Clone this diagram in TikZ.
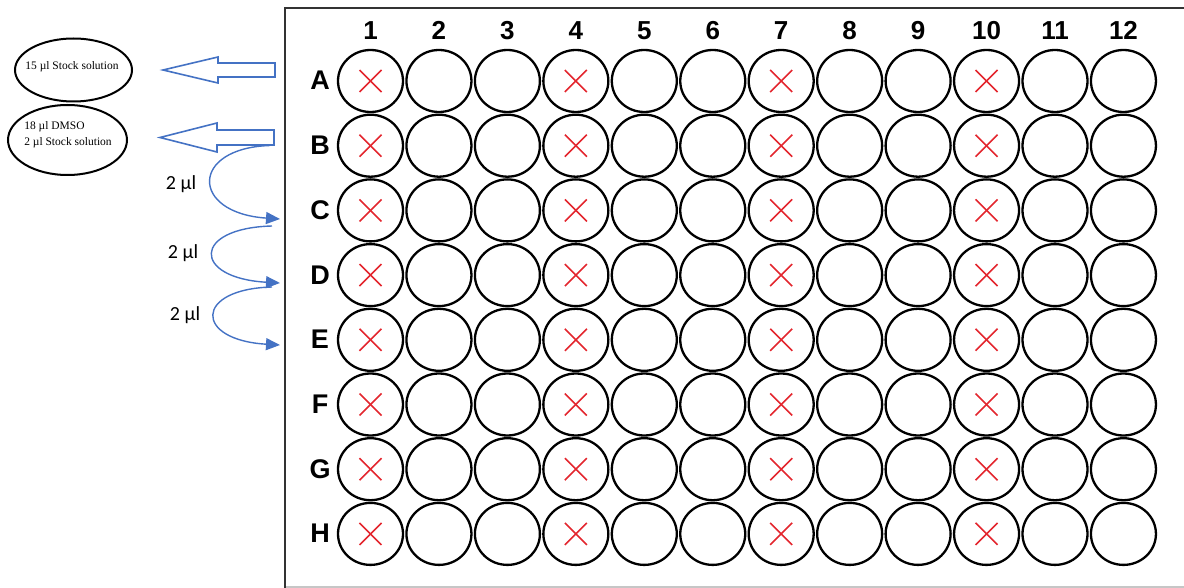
\documentclass[tikz,border=0pt]{standalone}
\usepackage{fontspec}
\setmainfont{Liberation Serif}
\newfontfamily\arialf{Liberation Sans}
\newfontfamily\calf{Carlito}
\usetikzlibrary{arrows.meta,shapes.geometric}
\definecolor{arrblue}{HTML}{4472C4}
\definecolor{xred}{HTML}{E3262E}
\definecolor{framecol}{HTML}{333333}
\tikzset{
  well/.style={ellipse,draw=black,line width=2.3pt,minimum width=65pt,minimum height=62pt,inner sep=0pt},
  xmark/.style={draw=xred,line width=1.6pt},
  collab/.style={font=\arialf\bfseries\fontsize{26}{26}\selectfont,inner sep=0pt,anchor=base},
  rowlab/.style={font=\arialf\bfseries\fontsize{27}{27}\selectfont,inner sep=0pt,anchor=base},
  note/.style={ellipse,draw=black,line width=2pt,inner sep=0pt},
  notetext/.style={font=\fontsize{11.5}{16}\selectfont,align=left,inner sep=0pt},
  blockarr/.style={draw=arrblue,line width=1.6pt,fill=white,line join=miter},
  curvearr/.style={draw=arrblue,line width=1.4pt,-{Triangle[length=14pt,width=12pt]}},
  vollab/.style={font=\calf\fontsize{20}{20}\selectfont,inner sep=0pt}
}
\begin{document}
\begin{tikzpicture}[x=1pt,y=-1pt]
\useasboundingbox (0,0) rectangle (1184,588);
% plate frame
\draw[framecol,line width=2.5pt] (1190,8) -- (285,8) -- (285,590);
\draw[gray!45,line width=1.5pt] (286,587) -- (1190,587);
% column labels
\foreach \c in {1,...,12}{
  \node[collab] (col\c) at ({370.5+68.45*(\c-1)},40) {\c};
}
% row labels and wells
\foreach \r/\L in {1/A,2/B,3/C,4/D,5/E,6/F,7/G,8/H}{
  \node[rowlab] (row\L) at (320,{90+64.7*(\r-1)}) {\L};
  \foreach \c in {1,...,12}{
    \node[well] (w\L\c) at ({370.5+68.45*(\c-1)},{81+64.7*(\r-1)}) {};
  }
  \foreach \c in {1,4,7,10}{
    \draw[xmark] ([shift={(-11,-11)}]w\L\c.center) -- ([shift={(11,11)}]w\L\c.center);
    \draw[xmark] ([shift={(11,-11)}]w\L\c.center) -- ([shift={(-11,11)}]w\L\c.center);
  }
}
% left notes
\node[note,minimum width=117pt,minimum height=63pt] (n1) at (73.5,70) {};
\node[notetext] (t1) at (72,67) {15 µl Stock solution};
\node[note,minimum width=119pt,minimum height=70pt] (n2) at (67.5,140) {};
\node[notetext] (t2) at (68,134.5) {18 µl DMSO\\2 µl Stock solution};
% block arrows
\draw[blockarr] (275,63) -- (218,63) -- (218,57) -- (163,70) -- (218,83) -- (218,77) -- (275,77) -- cycle;
\draw[blockarr] (274,130) -- (217,130) -- (217,123) -- (160,137.5) -- (217,152) -- (217,145) -- (274,145) -- cycle;
% serial dilution arrows
\coordinate (s1) at (270,145.5);
\coordinate (e1) at (280,219);
\coordinate (s2) at (272,226);
\coordinate (e2) at (280,283);
\coordinate (s3) at (272,287);
\coordinate (e3) at (280,345);
\draw[curvearr] (s1) .. controls (190,148) and (190,213) .. (e1);
\draw[curvearr] (s2) .. controls (192,228) and (192,278) .. (e2);
\draw[curvearr] (s3) .. controls (194,289) and (194,340) .. (e3);
\node[vollab] (v1) at (181,184) {2 µl};
\node[vollab] (v2) at (183,253) {2 µl};
\node[vollab] (v3) at (185,315) {2 µl};
\end{tikzpicture}
\end{document}
